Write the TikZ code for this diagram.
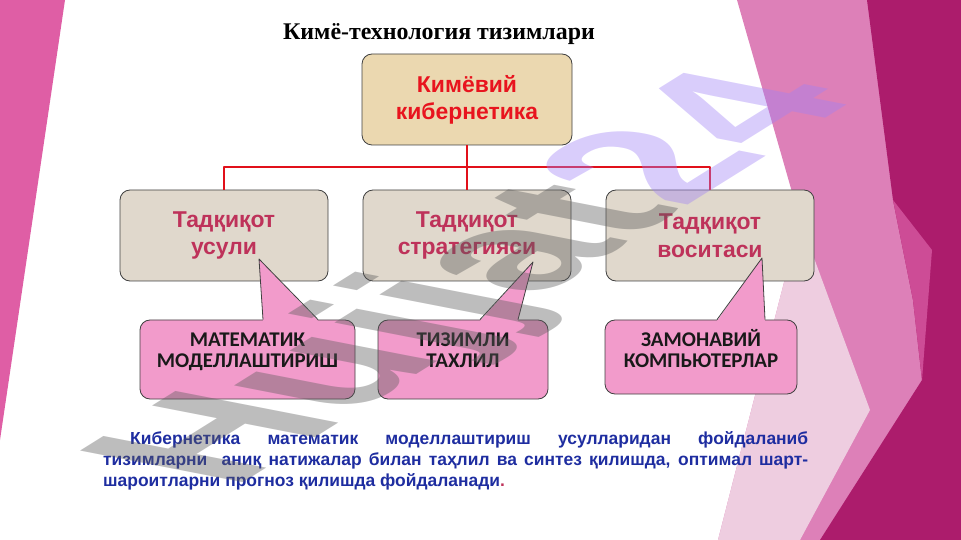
\documentclass[tikz,border=0pt]{standalone}
\usepackage{fontspec}
\setmainfont{Liberation Serif}
\newfontfamily\arialf{Liberation Sans}
\newfontfamily\calibf{Carlito}
\usetikzlibrary{positioning}
\definecolor{bandpink}{RGB}{223,94,165}
\definecolor{palepink}{RGB}{238,205,224}
\definecolor{midpink}{RGB}{221,128,184}
\definecolor{lightmag}{RGB}{205,76,150}
\definecolor{darkmag}{RGB}{172,28,108}
\definecolor{boxtan}{RGB}{235,216,176}
\definecolor{boxstone}{RGB}{224,216,204}
\definecolor{callpink}{RGB}{242,155,203}
\definecolor{linkred}{RGB}{225,16,26}
\definecolor{headred}{RGB}{232,20,30}
\definecolor{subrose}{RGB}{190,50,90}
\definecolor{textblue}{RGB}{30,45,160}
\definecolor{wmgray}{RGB}{90,90,90}
\definecolor{wmlav}{RGB}{160,130,245}

\begin{document}
\begin{tikzpicture}[x=1bp,y=-1bp,line join=round,
    topbox/.style={draw=black!75,line width=0.8bp,rounded corners=10bp,fill=boxtan,
      minimum width=210bp,minimum height=91bp,align=center,text=headred,
      font=\arialf\bfseries\fontsize{23}{27}\selectfont},
    midbox/.style={draw=black!75,line width=0.8bp,rounded corners=10bp,fill=boxstone,
      minimum width=208bp,minimum height=91bp,align=center,text=subrose,
      font=\arialf\bfseries\fontsize{23}{28}\selectfont},
    callbox/.style={draw=black!75,line width=0.8bp,rounded corners=10bp,fill=callpink},
    calltext/.style={inner sep=0pt,align=center,text=black!90,
      font=\calibf\bfseries\fontsize{21}{20.6}\selectfont},
    link/.style={draw=linkred,line width=2bp}]
        \useasboundingbox (0,0) rectangle (961,540);
        % background bands
        \fill[bandpink] (0,0) -- (65,0) -- (0,440) -- cycle;
        \fill[midpink] (737,0) -- (961,0) -- (961,540) -- (718,540) -- (800,220) -- cycle;
        \fill[palepink] (800,220) -- (870,410) -- (800,540) -- (718,540) -- cycle;
        \fill[darkmag] (867,0) -- (961,0) -- (961,540) -- (820,540) -- (922,380) -- (913,300) -- (893,200) -- cycle;
        \fill[lightmag] (893,200) -- (932,250) -- (922,380) -- (913,300) -- cycle;
        % title
        \node[font=\bfseries\fontsize{24}{28}\selectfont,anchor=base] (title) at (439,39.3) {Кимё-технология тизимлари};
        % boxes
        \node[topbox] (chem) at (467,99.5) {Кимёвий\\кибернетика};
        \node[midbox] (usul) at (224,235.5) {Тадқиқот\\усули};
        \node[midbox] (strat) at (467,235.5) {Тадқиқот\\стратегияси};
        \node[midbox] (vosit) at (710,235.5) {Тадқиқот\\воситаси};
        \draw[link] (chem.south) -- (strat.north);
        \draw[link] (usul.north) -- ++(0,-23) -| (vosit.north);
        % callouts
        \coordinate (tipa) at (259,259);
        \coordinate (tipb) at (533,262);
        \coordinate (tipc) at (762,258);
        \node[callbox,minimum width=215bp,minimum height=79bp] (model) at (247.5,359.5) {};
        \node[callbox,minimum width=170bp,minimum height=79bp] (tahlil) at (463,359.5) {};
        \node[callbox,minimum width=192bp,minimum height=74bp] (komp) at (701,357) {};
        \fill[callpink] ([xshift=15.5bp,yshift=-1.2bp]model.north) -- (tipa) -- ([xshift=70.5bp,yshift=-1.2bp]model.north) -- cycle;
        \draw[black!75,line width=0.8bp] ([xshift=15.5bp]model.north) -- (tipa) -- ([xshift=70.5bp]model.north);
        \fill[callpink] ([xshift=17bp,yshift=-1.2bp]tahlil.north) -- (tipb) -- ([xshift=55bp,yshift=-1.2bp]tahlil.north) -- cycle;
        \draw[black!75,line width=0.8bp] ([xshift=17bp]tahlil.north) -- (tipb) -- ([xshift=55bp]tahlil.north);
        \fill[callpink] ([xshift=16bp,yshift=-1.2bp]komp.north) -- (tipc) -- ([xshift=64bp,yshift=-1.2bp]komp.north) -- cycle;
        \draw[black!75,line width=0.8bp] ([xshift=16bp]komp.north) -- (tipc) -- ([xshift=64bp]komp.north);
        \node[calltext,below=10bp of model.north] (modeltxt) {\vphantom{Й}МАТЕМАТИК\\МОДЕЛЛАШТИРИШ};
        \node[calltext,below=10bp of tahlil.north] (tahliltxt) {\vphantom{Й}ТИЗИМЛИ\\ТАХЛИЛ};
        \node[calltext,below=10bp of komp.north] (komptxt) {ЗАМОНАВИЙ\\КОМПЬЮТЕРЛАР};
        % note
        \node[inner sep=0pt,anchor=north west,align=left,text=textblue,
          font=\arialf\bfseries\fontsize{17.5}{21}\selectfont] (note) at (103,431.5) {%
          \makebox[705bp][s]{\hspace*{27bp}Кибернетика математик моделлаштириш усулларидан фойдаланиб}\\
          \makebox[705bp][s]{тизимларни\ \ аниқ натижалар билан таҳлил ва синтез қилишда, оптимал шарт-}\\
          шароитларни прогноз қилишда фойдаланади{\color{subrose}.}};
        % watermark
        \begin{scope}[shift={(232,490)}]
          \node[cm={0.814,0.509,-1.188,0.231,(0,0)},transform shape,anchor=base west,inner sep=0pt,
            text opacity=0.4,font=\arialf\bfseries\fontsize{200}{200}\selectfont] (wmark)
            {\color{wmgray}Hujjat\color{wmlav}24};
        \end{scope}
    \end{tikzpicture}
\end{document}
